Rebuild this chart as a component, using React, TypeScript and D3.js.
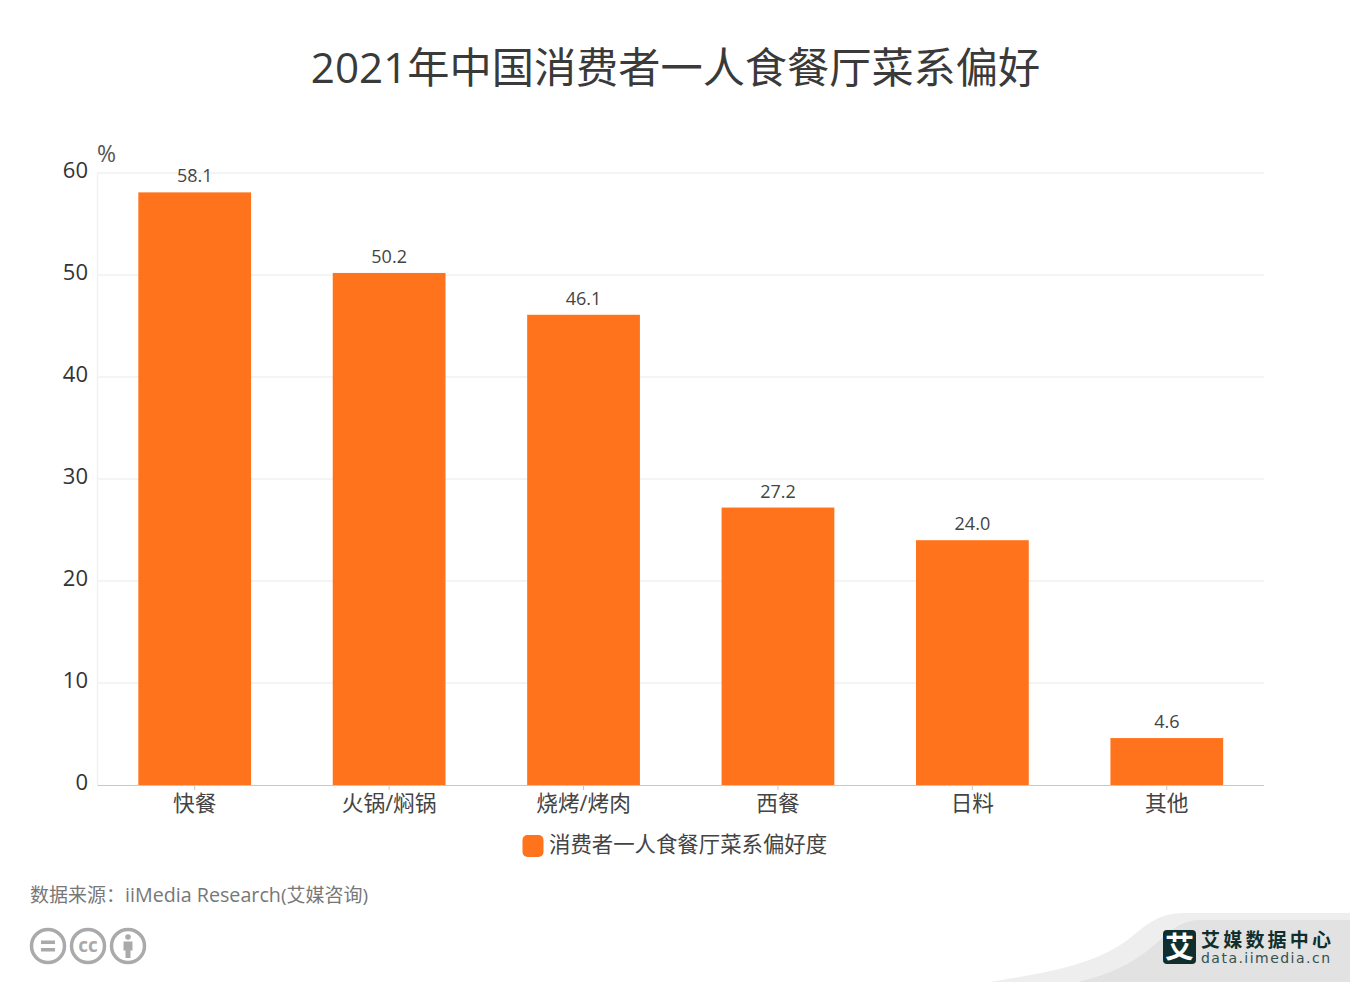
import * as d3 from "d3";
import { useEffect } from "react";

const categories = ["快餐", "火锅/焖锅", "烧烤/烤肉", "西餐", "日料", "其他"];
const values = [58.1, 50.2, 46.1, 27.2, 24.0, 4.6];
const valueLabels = ["58.1", "50.2", "46.1", "27.2", "24.0", "4.6"];
const yTicks = [0, 10, 20, 30, 40, 50, 60];

const title = "2021年中国消费者一人食餐厅菜系偏好";
const legendName = "消费者一人食餐厅菜系偏好度";
const sourceHead = "数据来源：";
const sourceOrg = "iiMedia Research";
const sourceTail = "(艾媒咨询)";

const font = "'Open Sans', 'Noto Sans CJK SC', sans-serif";
const cjk = "'Noto Sans CJK SC', sans-serif";
const orange = "#ff731c";

const App = () => {
  useEffect(() => {
    document.body.style.margin = "0";
  }, []);

  // plot area
  const left = 97.5, right = 1264, top = 173, bottom = 785;

  const x = d3.scaleBand<string>().domain(categories).range([left, right]).paddingInner(0.42).paddingOuter(0.21);
  const y = d3.scaleLinear().domain([0, 60]).range([bottom, top]);

  return (
    <svg width={1350} height={982} style={{ display: "block", background: "#fff" }}>
      <text x={675.5} y={83} textAnchor="middle" fontSize={42.2} fontFamily={font} fill="#3a3a3a">{title}</text>

      {/* grid */}
      {yTicks.filter((t) => t > 0).map((t) => (
        <line key={t} x1={left} x2={right} y1={y(t)} y2={y(t)} stroke="#f1f1f1" strokeWidth={1.3} />
      ))}
      <line x1={left} x2={left} y1={top} y2={bottom} stroke="#f1f1f1" strokeWidth={1.5} />

      {yTicks.map((t) => (
        <text key={t} x={88} y={y(t) + 5} textAnchor="end" fontSize={22} fontFamily={font} fill="#333">{t}</text>
      ))}
      <text x={97} y={162} fontSize={23} fontFamily={font} fill="#555">%</text>

      {/* bars */}
      {categories.map((c, i) => (
        <g key={c}>
          <rect x={x(c)} y={y(values[i])} width={x.bandwidth()} height={bottom - y(values[i])} fill={orange} />
          <text x={x(c)! + x.bandwidth() / 2} y={y(values[i]) - 10} textAnchor="middle" fontSize={18} fontFamily={font} fill="#444">{valueLabels[i]}</text>
          <line x1={x(c)! + x.bandwidth() / 2} x2={x(c)! + x.bandwidth() / 2} y1={bottom} y2={bottom + 5} stroke="#c8c8c8" />
          <text x={x(c)! + x.bandwidth() / 2} y={810.5} textAnchor="middle" fontSize={21.7} fontFamily={font} fill="#444">{c}</text>
        </g>
      ))}
      <line x1={left} x2={right} y1={bottom + 0.5} y2={bottom + 0.5} stroke="#c8c8c8" />

      {/* legend */}
      <rect x={522.5} y={835} width={21} height={22} rx={5} fill={orange} />
      <text x={549} y={852} fontSize={21.4} fontFamily={font} fill="#444">{legendName}</text>

      <text x={30} y={902} fontSize={19} fontFamily={font} fill="#777">
        {sourceHead}
        <tspan fontSize={19.7}>{sourceOrg}</tspan>
        {sourceTail}
      </text>

      {/* cc icons */}
      <g fill="none" stroke="#aaa" strokeWidth={3.5}>
        <circle cx={48} cy={946} r={16.5} />
        <circle cx={88} cy={946} r={16.5} />
        <circle cx={128} cy={946} r={16.5} />
      </g>
      <rect x={41} y={940.5} width={14} height={3.5} fill="#aaa" />
      <rect x={41} y={948} width={14} height={3.5} fill="#aaa" />
      <text x={88} y={952} textAnchor="middle" fontSize={19} fontWeight={700} fontFamily={font} fill="#aaa">cc</text>
      <circle cx={128} cy={937} r={2.8} fill="#aaa" />
      <path d="M123.5 941.5h9v9h-2v7.5h-5v-7.5h-2z" fill="#aaa" />

      {/* logo corner */}
      <path d="M990 982C1050 972 1095 965 1130 938C1150 922 1160 913 1185 913L1350 913V982Z" fill="#eeeeee" />
      <path d="M1078 982C1120 972 1140 958 1160 940C1175 926 1185 920 1200 920L1350 920V982Z" fill="#e2e2e2" />
      <rect x={1163} y={930} width={33} height={34} rx={4} fill="#0f2f2e" />
      <text x={1179.5} y={958} textAnchor="middle" fontSize={29} fontWeight={700} fontFamily={cjk} fill="#fff">艾</text>
      <text x={1201} y={947} fontSize={19} fontWeight={700} fontFamily={cjk} fill="#0f2f2e" textLength={130}>艾媒数据中心</text>
      <text x={1201} y={963} fontSize={14} fontFamily="'DejaVu Sans', sans-serif" fill="#33514f" textLength={129}>data.iimedia.cn</text>
    </svg>
  );
};

export default App;
